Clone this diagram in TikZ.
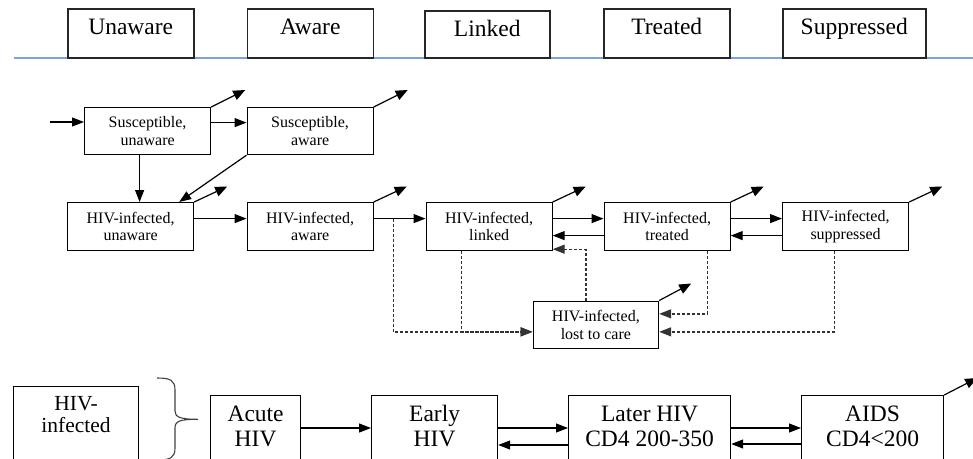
\documentclass[tikz,border=0pt]{standalone}
\usepackage{fontspec}
\setmainfont{Liberation Serif}
\usetikzlibrary{arrows.meta}
\definecolor{blueline}{RGB}{125,160,222}
\begin{document}
\begin{tikzpicture}[x=1pt,y=-1pt,
  hdr/.style={draw=black!85, line width=1.5pt, inner xsep=0pt, inner ysep=0pt, minimum width=126pt,
    text height=26pt, text depth=23pt, anchor=north west, font=\fontsize{23.5}{25}\selectfont},
  st/.style={draw, line width=1.2pt, minimum width=126pt, minimum height=48pt, inner sep=0pt,
    align=center, anchor=north west, font=\fontsize{16}{17.5}\selectfont},
  big/.style={draw, line width=1.2pt, inner xsep=0pt, inner ysep=0pt, anchor=north west,
    text height=26pt, text depth=42pt, font=\fontsize{23.5}{25}\selectfont},
  arr/.style={line width=1.2pt, -{Triangle[length=12pt,width=9pt]}},
  exitarr/.style={line width=1.2pt, -{Triangle[length=12pt,width=10pt]}},
  dsh/.style={line width=1.3pt, draw=black!80, dash pattern=on 3pt off 2pt, -{Triangle[length=12pt,width=9pt]}},
]
\useasboundingbox (0,0) rectangle (973,458);
\clip (0,0) rectangle (973,458);

% header
\draw[line width=2pt, blueline] (14,58.3) -- (973,58.3);
\node[hdr] (h1) at (67,8) {Unaware};
\node[hdr] (h2) at (246.5,8) {Aware};
\node[hdr, minimum width=125pt, text depth=21pt] (h3) at (424,10) {Linked};
\node[hdr] (h4) at (603,8) {Treated};
\node[hdr, minimum width=143pt] (h5) at (782,8) {Suppressed};

% susceptible row
\node[st, minimum height=47pt] (su) at (84,107) {Susceptible,\\unaware};
\node[st, minimum height=47pt] (sa) at (246.5,107) {Susceptible,\\aware};

% infected row
\node[st] (hu) at (67,202) {HIV-infected,\\unaware};
\node[st] (ha) at (246.5,202) {HIV-infected,\\aware};
\node[st] (hl) at (425.5,202) {HIV-infected,\\linked};
\node[st] (ht) at (603.5,202) {HIV-infected,\\treated};
\node[st] (hs) at (782,202) {HIV-infected,\\suppressed};
\node[st, minimum width=125.5pt, minimum height=47.5pt] (lost) at (532.5,300.5) {HIV-infected,\\lost to care};

% stages row
\node[big, minimum width=125pt, text height=24pt, text depth=80pt, font=\fontsize{21.5}{22}\selectfont] (hi) at (13,386)
  {\begin{tabular}[t]{@{}c@{}}HIV-\\infected\end{tabular}};
\node[big, minimum width=90pt] (acute) at (210,395) {\begin{tabular}[t]{@{}c@{}}Acute\\HIV\end{tabular}};
\node[big, minimum width=126pt] (early) at (371,395) {\begin{tabular}[t]{@{}c@{}}Early\\HIV\end{tabular}};
\node[big, minimum width=162pt] (later) at (568,395) {\begin{tabular}[t]{@{}c@{}}Later HIV\\CD4 200-350\end{tabular}};
\node[big, minimum width=142pt] (aids) at (801,395) {\begin{tabular}[t]{@{}c@{}}AIDS\\CD4<200\end{tabular}};

% brace
\draw[line width=1.1pt, black!75] (157,378) .. controls (170,378) and (175,380) .. (175,390) -- (175,411)
  .. controls (175,417) and (180,419.3) .. (198,419.3)
  .. controls (180,419.3) and (175,421) .. (175,428) -- (175,448)
  .. controls (175,458) and (170,460) .. (157,460);

% solid arrows
\coordinate (in0) at (50,122);
\draw[arr] (in0) -- (in0 -| su.west);
\draw[arr] ([yshift=8.5pt]su.east) -- ([yshift=8.5pt]sa.west);
\draw[arr] ([xshift=-8pt]su.south) -- ([xshift=-8pt]su.south |- hu.north);
\draw[arr] (sa.south west) -- ([xshift=-15pt]hu.north east);
\draw[arr] ([yshift=8pt]hu.east) -- ([yshift=8pt]ha.west);
\draw[arr] ([yshift=8pt]ha.east) -- ([yshift=8pt]hl.west);
\draw[arr] ([yshift=8pt]hl.east) -- ([yshift=8pt]ht.west);
\draw[arr] ([yshift=-9pt]ht.west) -- ([yshift=-9pt]hl.east);
\draw[arr] ([yshift=8pt]ht.east) -- ([yshift=8pt]hs.west);
\draw[arr] ([yshift=-9pt]hs.west) -- ([yshift=-9pt]ht.east);

\draw[arr] ([yshift=-33pt]acute.north east) -- ([yshift=-33pt]acute.north east -| early.west);
\draw[arr] ([yshift=-33pt]early.north east) -- ([yshift=-33pt]early.north east -| later.west);
\draw[arr] ([yshift=-50pt]later.north west) -- ([yshift=-50pt]later.north west -| early.east);
\draw[arr] ([yshift=-33pt]later.north east) -- ([yshift=-33pt]later.north east -| aids.west);
\draw[arr] ([yshift=-49pt]aids.north west) -- ([yshift=-49pt]aids.north west -| later.east);

% exit arrows
\draw[exitarr] (su.north east) -- ++(34,-17);
\draw[exitarr] (sa.north east) -- ++(34,-17);
\foreach \n in {hu,ha,hl,ht,hs} {\draw[exitarr] (\n.north east) -- ++(33,-15.5);}
\draw[exitarr] (lost.north east) -- ++(32,-17);
\draw[exitarr] (aids.north east) -- ++(33,-17);

% dashed transitions
\draw[dsh] ([xshift=20pt,yshift=8pt]ha.east) |- ([yshift=-7pt]lost.west);
\draw[dsh] ([xshift=-27.5pt]hl.south) |- ([yshift=-7pt]lost.west);
\draw[dsh] ([xshift=-10pt]lost.north) |- ([yshift=2pt]hl.south east);
\draw[dsh] ([xshift=40.5pt]ht.south) |- ([yshift=11pt]lost.east);
\draw[dsh] ([xshift=-11pt]hs.south) |- ([yshift=-7pt]lost.east);
\end{tikzpicture}
\end{document}
